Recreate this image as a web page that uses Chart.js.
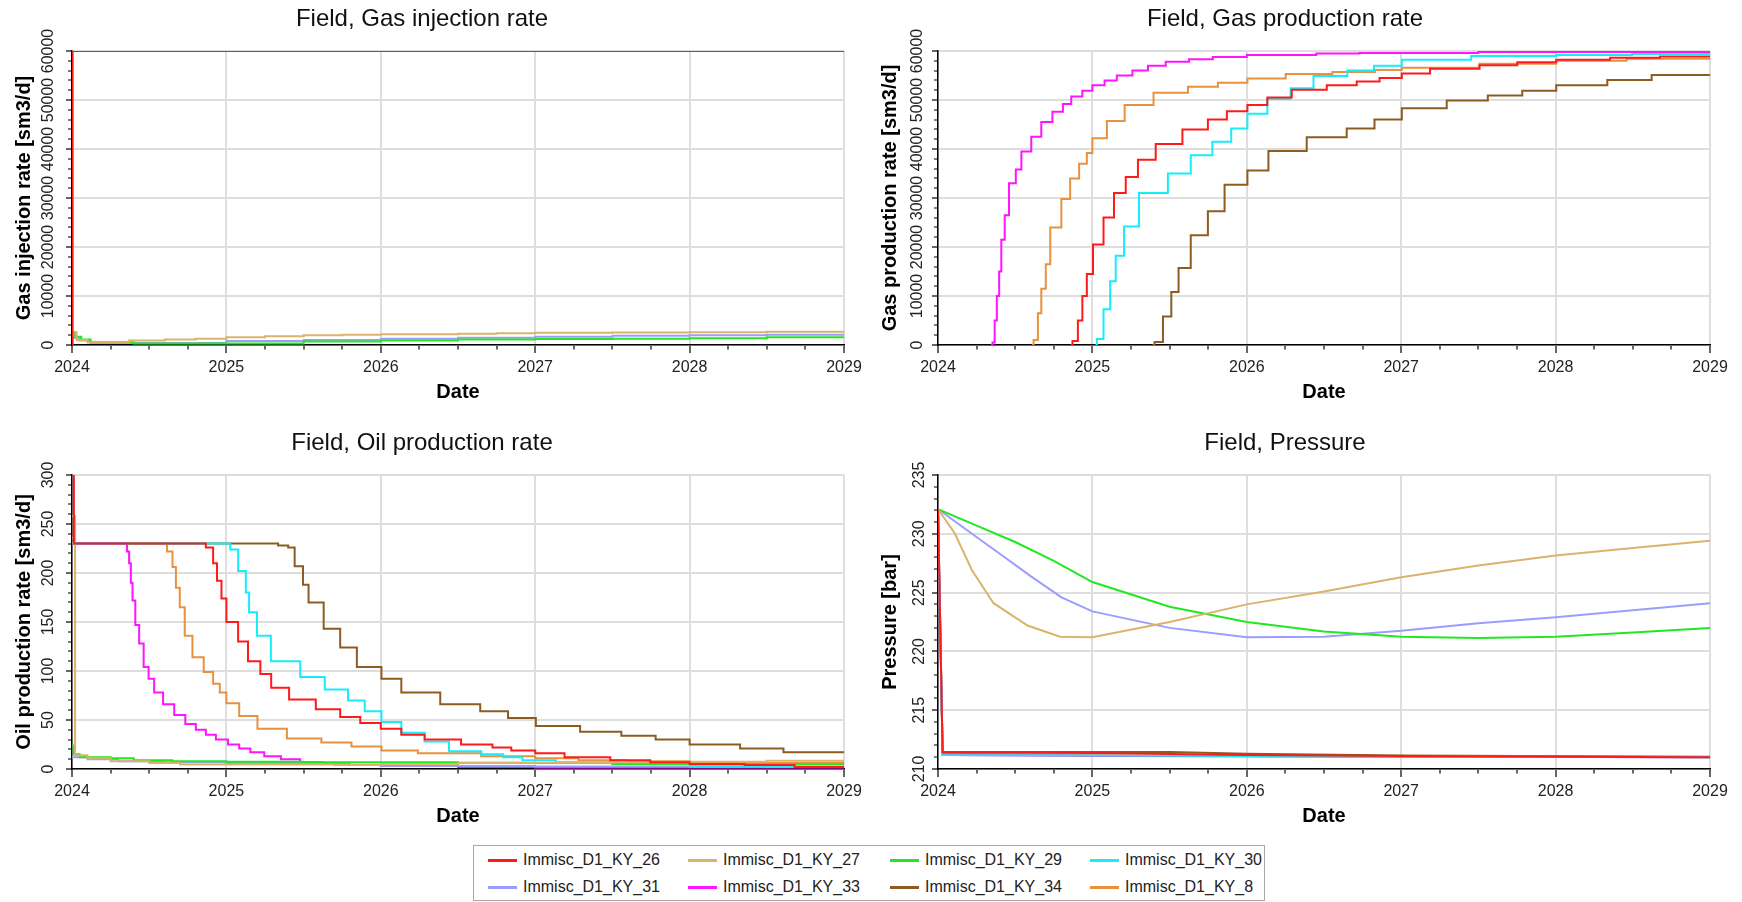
<!DOCTYPE html>
<html>
<head>
<meta charset="utf-8">
<script src="https://cdn.jsdelivr.net/npm/chart.js@4.4.1/dist/chart.umd.min.js"></script>
<style>
  html, body { margin: 0; padding: 0; background: #fff; }
  body { width: 1742px; height: 902px; position: relative; overflow: hidden; }
  canvas { position: absolute; }
  #legend {
    position: absolute; left: 473px; top: 845px; width: 792px; height: 56px;
    border: 1px solid #a8a8a8; box-sizing: border-box;
    font: 16px "Liberation Sans", Arial, sans-serif; color: #222;
  }
  .item { position: absolute; height: 20px; line-height: 20px; white-space: nowrap; }
  .swatch { position: absolute; width: 29px; height: 3px; top: 9px; }
  .label { position: absolute; left: 35px; top: 0; }
</style>
</head>
<body>
<canvas id="cInj" width="864" height="405" style="left:0px;top:0px"></canvas>
<canvas id="cGas" width="868" height="405" style="left:860px;top:0px"></canvas>
<canvas id="cOil" width="862" height="405" style="left:0px;top:424px"></canvas>
<canvas id="cPres" width="868" height="405" style="left:860px;top:424px"></canvas>
<div id="legend"></div>

<script>
// ---------------- Cases ----------------
const caseNames = ['Immisc_D1_KY_26', 'Immisc_D1_KY_27', 'Immisc_D1_KY_29', 'Immisc_D1_KY_30',
                   'Immisc_D1_KY_31', 'Immisc_D1_KY_33', 'Immisc_D1_KY_34', 'Immisc_D1_KY_8'];
const caseColors = ['#ff1a1a', '#dcb36c', '#22e822', '#14eefc', '#9c9cff', '#ff14ff', '#8c5c20', '#e8913e'];

// Date axis, in decimal years
const dateMin = 2024;
const dateMax = 2029;

// ---------------- Field, Gas injection rate [sm3/d] ----------------
const ginj26_t = [2024.0, 2024.004, 2029];
const ginj26_v = [0, 60000, 60000];
const ginj27_t = [2024.0, 2024.03, 2024.1, 2024.37, 2024.6, 2024.8, 2025.0, 2025.25, 2025.5, 2025.75, 2026.0, 2026.5, 2026.75, 2027.0, 2027.5, 2028.0, 2028.5, 2029];
const ginj27_v = [2600, 1000, 500, 900, 1100, 1300, 1600, 1800, 2000, 2100, 2200, 2300, 2400, 2500, 2550, 2600, 2700, 2700];
const ginj29_t = [2024.0, 2024.02, 2024.06, 2024.12, 2024.4, 2025.5, 2026.0, 2026.5, 2027.0, 2027.5, 2028.0, 2028.5, 2029];
const ginj29_v = [2600, 1700, 1100, 550, 300, 700, 900, 1100, 1200, 1300, 1400, 1600, 1600];
const ginj31_t = [2024.0, 2024.05, 2024.12, 2025.0, 2025.5, 2026.0, 2026.5, 2027.0, 2027.5, 2028.0, 2028.5, 2029];
const ginj31_v = [1500, 900, 400, 800, 1000, 1300, 1500, 1700, 1900, 2000, 2100, 2100];

// ---------------- Field, Gas production rate [sm3/d] ----------------
const gprod26_t = [2024.86, 2024.871, 2024.906, 2024.935, 2024.964, 2025.004, 2025.072, 2025.14, 2025.216, 2025.295, 2025.41, 2025.583, 2025.748, 2025.871, 2026.004, 2026.133, 2026.291, 2026.518, 2026.712, 2026.86, 2027.004, 2027.187, 2027.507, 2027.752, 2028.004, 2028.353, 2028.676, 2029];
const gprod26_v = [0, 800, 5000, 10000, 14500, 20500, 26000, 31000, 34300, 37800, 41000, 44000, 46000, 47700, 49000, 50500, 52100, 53000, 53800, 54500, 55400, 56400, 57100, 57700, 58200, 58600, 58900, 58900];
const gprod30_t = [2025.02, 2025.029, 2025.072, 2025.115, 2025.151, 2025.205, 2025.302, 2025.489, 2025.637, 2025.777, 2025.899, 2026.004, 2026.133, 2026.284, 2026.432, 2026.651, 2026.824, 2027.004, 2027.453, 2028.004, 2028.496, 2029];
const gprod30_v = [0, 1200, 7300, 13000, 18200, 24200, 31000, 35000, 38700, 41500, 44200, 47200, 50200, 52400, 54900, 56000, 57000, 58200, 59000, 59200, 59400, 59400];
const gprod33_t = [2024.343, 2024.353, 2024.367, 2024.381, 2024.396, 2024.41, 2024.432, 2024.46, 2024.504, 2024.54, 2024.604, 2024.669, 2024.741, 2024.809, 2024.863, 2024.935, 2025.0, 2025.079, 2025.158, 2025.259, 2025.36, 2025.475, 2025.626, 2025.78, 2026.0, 2026.45, 2026.73, 2027.5, 2029];
const gprod33_v = [0, 500, 5000, 10000, 15000, 21500, 26500, 33000, 35800, 39500, 42500, 45500, 47600, 49200, 50700, 51900, 53000, 54000, 55000, 56000, 57000, 57800, 58300, 58800, 59200, 59500, 59600, 59800, 59800];
const gprod34_t = [2025.39, 2025.403, 2025.457, 2025.511, 2025.558, 2025.637, 2025.748, 2025.856, 2026.004, 2026.14, 2026.388, 2026.647, 2026.827, 2027.004, 2027.295, 2027.561, 2027.784, 2028.004, 2028.335, 2028.622, 2029];
const gprod34_v = [0, 600, 5800, 10800, 15700, 22400, 27300, 32700, 35600, 39600, 42400, 44200, 46000, 48300, 49900, 50900, 51900, 53000, 54100, 55100, 55100];
const gprod8_t = [2024.61, 2024.619, 2024.647, 2024.669, 2024.698, 2024.727, 2024.799, 2024.856, 2024.914, 2024.964, 2025.0, 2025.094, 2025.209, 2025.396, 2025.619, 2025.813, 2026.004, 2026.252, 2026.554, 2026.83, 2027.004, 2027.507, 2028.004, 2028.46, 2029];
const gprod8_v = [0, 1000, 6500, 11500, 16500, 24000, 29800, 34000, 37000, 39200, 42200, 45700, 49000, 51500, 52700, 53500, 54400, 55300, 55700, 56100, 56600, 57400, 58000, 58400, 58400];

// ---------------- Field, Oil production rate [sm3/d] ----------------
const oil26_t = [2024.0, 2024.012, 2024.867, 2024.914, 2024.939, 2024.968, 2025.0, 2025.076, 2025.14, 2025.22, 2025.29, 2025.406, 2025.579, 2025.737, 2025.867, 2026.0, 2026.133, 2026.284, 2026.52, 2026.723, 2026.845, 2027.0, 2027.19, 2027.486, 2027.745, 2028.0, 2028.356, 2028.68, 2029];
const oil26_v = [320, 230, 226, 210, 192, 174, 150, 130, 110, 97, 83, 71, 61, 53, 47, 41, 35, 30, 25, 22, 19, 16, 12, 9, 7, 5, 4, 2, 2];
const oil27_t = [2024.0, 2024.02, 2024.1, 2024.25, 2024.5, 2024.7, 2025.7, 2026.0, 2026.5, 2027.0, 2027.5, 2028.0, 2028.5, 2029];
const oil27_v = [258, 14, 11, 8, 6, 4.5, 4, 5, 6, 6.5, 7, 7.5, 8.5, 8.5];
const oil29_t = [2024.0, 2024.01, 2024.05, 2024.25, 2024.4, 2024.65, 2025.0, 2025.5, 2026.0, 2026.5, 2027.0, 2027.5, 2028.0, 2028.5, 2029];
const oil29_v = [24, 15, 12, 11, 9, 8, 7.5, 7, 7, 6.5, 6, 5, 5, 4.5, 4.5];
const oil30_t = [2024.0, 2024.012, 2025.025, 2025.076, 2025.126, 2025.147, 2025.198, 2025.288, 2025.478, 2025.637, 2025.788, 2025.896, 2026.004, 2026.133, 2026.284, 2026.442, 2026.651, 2026.791, 2026.917, 2027.133, 2027.5, 2028.0, 2028.5, 2029];
const oil30_v = [230, 230, 224, 202, 180, 160, 136, 110, 94, 81, 70, 59, 48, 37, 28, 18, 15, 12, 9, 7, 5, 3, 2, 2];
const oil31_t = [2024.0, 2024.1, 2024.3, 2024.6, 2025.0, 2025.5, 2025.8, 2026.0, 2027.0, 2028.0, 2029];
const oil31_v = [12, 10, 8, 7, 6, 5, 4, 3, 2.5, 2, 2];
const oil33_t = [2024.0, 2024.012, 2024.356, 2024.37, 2024.381, 2024.392, 2024.41, 2024.435, 2024.464, 2024.496, 2024.532, 2024.59, 2024.662, 2024.734, 2024.802, 2024.867, 2024.932, 2025.01, 2025.083, 2025.155, 2025.245, 2025.353, 2025.478, 2025.622, 2025.8, 2026.0, 2026.5, 2027.0, 2029];
const oil33_v = [230, 230, 222, 210, 190, 172, 147, 128, 104, 92, 78, 66, 55, 46, 40, 35, 30, 25, 21, 17, 13, 10, 7, 5, 4, 3, 2, 1.5, 1.5];
const oil34_t = [2024.0, 2024.012, 2025.335, 2025.4, 2025.442, 2025.496, 2025.532, 2025.63, 2025.737, 2025.845, 2026.004, 2026.133, 2026.385, 2026.644, 2026.824, 2027.004, 2027.291, 2027.558, 2027.78, 2028.0, 2028.327, 2028.608, 2029];
const oil34_v = [230, 230, 228, 226, 207, 188, 170, 143, 124, 104, 92, 78, 66, 59, 52, 44, 38, 34, 30, 25, 21, 17, 17];
const oil8_t = [2024.0, 2024.012, 2024.615, 2024.651, 2024.673, 2024.698, 2024.73, 2024.78, 2024.853, 2024.914, 2024.957, 2025.0, 2025.083, 2025.201, 2025.392, 2025.615, 2025.81, 2026.004, 2026.24, 2026.65, 2027.0, 2027.28, 2027.6, 2028.0, 2028.5, 2029];
const oil8_v = [236, 230, 222, 206, 185, 165, 136, 114, 99, 87, 78, 67, 54, 41, 31, 27, 23, 19, 16, 13, 11, 9, 8, 7, 6, 6];

// ---------------- Field, Pressure [bar] ----------------
const pres26_t = [2024.0, 2024.03, 2025.0, 2026.0, 2027.0, 2028.0, 2029];
const pres26_v = [232.1, 211.4, 211.35, 211.2, 211.1, 211.05, 211.0];
const pres27_t = [2024.0, 2024.11, 2024.22, 2024.36, 2024.58, 2024.79, 2025.0, 2025.5, 2026.0, 2026.5, 2027.0, 2027.5, 2028.0, 2028.5, 2029];
const pres27_v = [232.1, 230.0, 226.9, 224.1, 222.2, 221.25, 221.2, 222.5, 224.0, 225.1, 226.3, 227.3, 228.15, 228.8, 229.4];
const pres29_t = [2024.0, 2024.25, 2024.5, 2024.75, 2025.0, 2025.5, 2026.0, 2026.5, 2027.0, 2027.5, 2028.0, 2028.5, 2029];
const pres29_v = [232.1, 230.7, 229.3, 227.7, 225.9, 223.8, 222.5, 221.7, 221.25, 221.13, 221.25, 221.6, 222.0];
const pres30_t = [2024.0, 2024.03, 2026.0, 2029];
const pres30_v = [232.1, 211.2, 211.1, 211.0];
const pres31_t = [2024.0, 2024.2, 2024.4, 2024.6, 2024.8, 2025.0, 2025.5, 2026.0, 2026.5, 2027.0, 2027.5, 2028.0, 2028.5, 2029];
const pres31_v = [232.1, 230.2, 228.3, 226.4, 224.6, 223.4, 222.0, 221.2, 221.25, 221.75, 222.4, 222.9, 223.5, 224.1];
const pres33_t = [2024.0, 2024.03, 2025.2, 2029];
const pres33_v = [232.1, 211.2, 211.1, 211.0];
const pres34_t = [2024.0, 2024.03, 2025.5, 2026.0, 2027.0, 2029];
const pres34_v = [232.1, 211.45, 211.45, 211.3, 211.15, 211.05];
const pres8_t = [2024.0, 2024.03, 2025.5, 2029];
const pres8_v = [232.1, 211.3, 211.1, 211.0];

// ---------------- Helpers ----------------
const FAMILY = '"Liberation Sans", Arial, Helvetica, sans-serif';
const GRID_COLOR = '#dedede';

function series(caseIndex, t, v, stepped) {
  return {
    label: caseNames[caseIndex],
    data: t.map((x, i) => ({ x: x, y: v[i] })),
    borderColor: caseColors[caseIndex],
    backgroundColor: caseColors[caseIndex],
    borderWidth: 2,
    pointRadius: 0,
    pointHoverRadius: 0,
    tension: 0,
    stepped: stepped ? 'before' : false,
    fill: false
  };
}

const measureCtx = document.createElement('canvas').getContext('2d');
function widestLabel(font, labels) {
  measureCtx.font = font;
  return Math.max(...labels.map(s => measureCtx.measureText(s).width));
}

function isWhole(v, step) {
  return Math.abs(v / step - Math.round(v / step)) < 1e-6;
}

function makePanel(canvasId, p) {
  const tickFont = { family: FAMILY, size: 16 };
  const yLabels = [];
  for (let v = p.yMin; v <= p.yMax + 1e-9; v += p.yMajor) yLabels.push(String(v));
  const widest = widestLabel('16px ' + FAMILY, yLabels);
  const yTickLen = 6;
  const yTickPad = p.yTickOffset - yTickLen - widest / 2;

  return new Chart(document.getElementById(canvasId), {
    type: 'line',
    data: { datasets: p.datasets },
    options: {
      responsive: false,
      animation: false,
      events: [],
      layout: { padding: { left: 0, right: p.rightPad, top: 0, bottom: 0 } },
      plugins: {
        legend: { display: false },
        tooltip: { enabled: false },
        title: {
          display: true,
          text: p.title,
          color: '#111',
          font: { family: FAMILY, size: 24, weight: 'normal' },
          padding: { top: 4.6, bottom: 17.6 }
        }
      },
      scales: {
        x: {
          type: 'linear',
          min: dateMin,
          max: dateMax,
          afterFit(scale) { scale.height = 60; scale.paddingLeft = 0; scale.paddingRight = 0; },
          border: { display: true, color: '#000', width: 1.5 },
          grid: {
            color: c => isWhole(c.tick.value, 1) ? GRID_COLOR : 'rgba(0,0,0,0)',
            lineWidth: 2,
            tickColor: '#000',
            tickWidth: 1.2,
            tickLength: 8,
            tickBorderDash: c => isWhole(c.tick.value, 1) ? [] : [4, 100]
          },
          ticks: {
            stepSize: 0.25,
            autoSkip: false,
            maxRotation: 0,
            minRotation: 0,
            padding: 5,
            color: '#222',
            font: tickFont,
            callback: v => isWhole(v, 1) ? String(Math.round(v)) : ''
          },
          title: {
            display: true,
            text: 'Date',
            color: '#000',
            font: { family: FAMILY, size: 20, weight: 'bold' },
            padding: { top: 0, bottom: 1 }
          }
        },
        y: {
          type: 'linear',
          min: p.yMin,
          max: p.yMax,
          afterFit(scale) { scale.width = p.yAxisWidth; scale.paddingTop = 0; scale.paddingBottom = 0; },
          border: { display: true, color: '#000', width: 1.5 },
          grid: {
            color: c => isWhole(c.tick.value, p.yMajor) ? GRID_COLOR : 'rgba(0,0,0,0)',
            lineWidth: 2,
            tickColor: '#000',
            tickWidth: 1.2,
            tickLength: yTickLen,
            tickBorderDash: c => isWhole(c.tick.value, p.yMajor) ? [] : [0, 2, 4, 100]
          },
          ticks: {
            stepSize: p.yStep,
            autoSkip: false,
            minRotation: 90,
            maxRotation: 90,
            crossAlign: 'center',
            padding: yTickPad,
            color: '#222',
            font: tickFont,
            callback: v => isWhole(v, p.yMajor) ? String(Math.round(v)) : ''
          },
          title: {
            display: true,
            text: p.yTitle,
            color: '#000',
            font: { family: FAMILY, size: 20, weight: 'bold' },
            padding: { top: p.yTitleOffset - 12, bottom: 0 }
          }
        }
      }
    }
  });
}

// ---------------- Panels ----------------
makePanel('cInj', {
  title: 'Field, Gas injection rate',
  yTitle: 'Gas injection rate [sm3/d]',
  yMin: 0, yMax: 60000, yStep: 2000, yMajor: 10000,
  yAxisWidth: 72, yTickOffset: 23.5, yTitleOffset: 24, rightPad: 20,
  datasets: [
    series(0, ginj26_t, ginj26_v, true),
    series(1, ginj27_t, ginj27_v, true),
    series(2, ginj29_t, ginj29_v, true),
    series(4, ginj31_t, ginj31_v, true)
  ]
});

makePanel('cGas', {
  title: 'Field, Gas production rate',
  yTitle: 'Gas production rate [sm3/d]',
  yMin: 0, yMax: 60000, yStep: 2000, yMajor: 10000,
  yAxisWidth: 78, yTickOffset: 20.5, yTitleOffset: 30, rightPad: 18,
  datasets: [
    series(0, gprod26_t, gprod26_v, true),
    series(3, gprod30_t, gprod30_v, true),
    series(5, gprod33_t, gprod33_v, true),
    series(6, gprod34_t, gprod34_v, true),
    series(7, gprod8_t, gprod8_v, true)
  ]
});

makePanel('cOil', {
  title: 'Field, Oil production rate',
  yTitle: 'Oil production rate [sm3/d]',
  yMin: 0, yMax: 300, yStep: 10, yMajor: 50,
  yAxisWidth: 72, yTickOffset: 23.5, yTitleOffset: 24.5, rightPad: 18,
  datasets: [
    series(0, oil26_t, oil26_v, true),
    series(1, oil27_t, oil27_v, true),
    series(2, oil29_t, oil29_v, true),
    series(3, oil30_t, oil30_v, true),
    series(4, oil31_t, oil31_v, true),
    series(5, oil33_t, oil33_v, true),
    series(6, oil34_t, oil34_v, true),
    series(7, oil8_t, oil8_v, true)
  ]
});

makePanel('cPres', {
  title: 'Field, Pressure',
  yTitle: 'Pressure [bar]',
  yMin: 210, yMax: 235, yStep: 1, yMajor: 5,
  yAxisWidth: 78, yTickOffset: 18, yTitleOffset: 30, rightPad: 18,
  datasets: [
    series(0, pres26_t, pres26_v, false),
    series(1, pres27_t, pres27_v, false),
    series(2, pres29_t, pres29_v, false),
    series(3, pres30_t, pres30_v, false),
    series(4, pres31_t, pres31_v, false),
    series(5, pres33_t, pres33_v, false),
    series(6, pres34_t, pres34_v, false),
    series(7, pres8_t, pres8_v, false)
  ]
});

// ---------------- Legend ----------------
const legendCols = [14, 214, 416, 616];
const legendRows = [4, 31];
const legend = document.getElementById('legend');
caseNames.forEach((name, i) => {
  const item = document.createElement('div');
  item.className = 'item';
  item.style.left = legendCols[i % 4] + 'px';
  item.style.top = legendRows[Math.floor(i / 4)] + 'px';
  const sw = document.createElement('div');
  sw.className = 'swatch';
  sw.style.background = caseColors[i];
  const lb = document.createElement('div');
  lb.className = 'label';
  lb.textContent = name;
  item.appendChild(sw);
  item.appendChild(lb);
  legend.appendChild(item);
});
</script>
</body>
</html>
